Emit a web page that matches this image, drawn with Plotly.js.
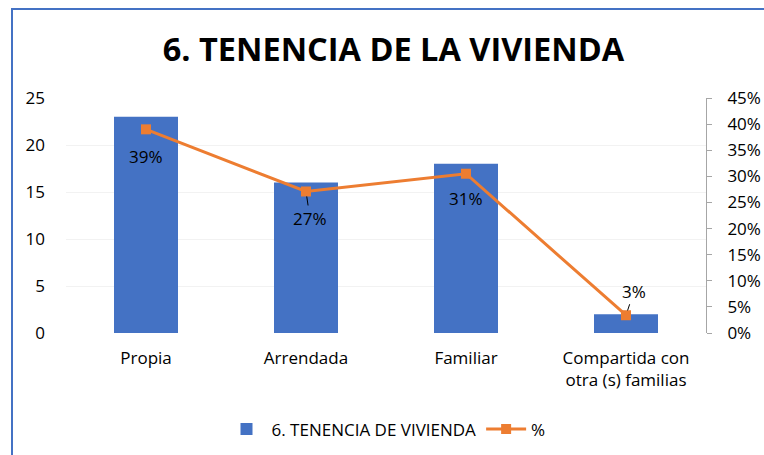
<!DOCTYPE html>
<html>
<head>
<meta charset="utf-8">
<script src="https://cdn.plot.ly/plotly-3.0.1.min.js"></script>
<style>
html,body{margin:0;padding:0;overflow:hidden;background:#fff;}
#chart{width:764px;height:455px;}
</style>
</head>
<body>
<div id="chart"></div>
<script>
var categories = ["Propia", "Arrendada", "Familiar", "Compartida con<br>otra (s) familias"];
var counts = [23, 16, 18, 2];
var percents = [0.39, 0.271, 0.305, 0.034];
var percentLabels = ["39%", "27%", "31%", "3%"];
var barName = "6. TENENCIA DE VIVIENDA";
var lineName = "%";

// label placement (styling, not data)
var labelStyle = [
  {ax: 0, ay: 27, arrow: false},
  {ax: 4, ay: 27, arrow: true},
  {ax: 0, ay: 25, arrow: false},
  {ax: 8, ay: -24, arrow: true}
];

var FONT = "Open Sans, sans-serif";
var blue = "#4472C4";
var orange = "#ED7D31";

var traces = [
  {
    type: "bar",
    name: barName,
    x: categories,
    y: counts,
    marker: {color: blue},
    width: 0.4,
    yaxis: "y",
    hoverinfo: "none"
  },
  {
    type: "scatter",
    mode: "lines+markers",
    name: lineName,
    x: categories,
    y: percents,
    yaxis: "y2",
    line: {color: orange, width: 3},
    marker: {color: orange, symbol: "square", size: 10},
    hoverinfo: "none"
  }
];

var annotations = percents.map(function (p, i) {
  var s = labelStyle[i];
  return {
    x: categories[i], y: p, xref: "x", yref: "y2",
    text: percentLabels[i],
    showarrow: true,
    arrowhead: 0, arrowwidth: 1,
    arrowcolor: s.arrow ? "#000" : "rgba(0,0,0,0)",
    standoff: 5,
    ax: s.ax, ay: s.ay,
    font: {family: FONT, size: 17, color: "#000"}
  };
});

var layout = {
  width: 764, height: 455,
  margin: {l: 66, r: 58, t: 98, b: 122, autoexpand: false},
  paper_bgcolor: "#fff", plot_bgcolor: "#fff",
  font: {family: FONT, size: 17, color: "#000"},
  title: {
    text: "<b>6. TENENCIA DE LA VIVIENDA</b>",
    font: {family: FONT, size: 32.5, color: "#000"},
    x: 0.515, xanchor: "center", y: 0.89, yanchor: "middle"
  },
  showlegend: true,
  legend: {
    orientation: "h", x: 0.5, xanchor: "center", y: -0.41, yanchor: "middle",
    font: {family: FONT, size: 17, color: "#000"},
    itemwidth: 40
  },
  bargap: 0.6,
  xaxis: {
    type: "category", automargin: false,
    showline: false, showgrid: false, ticks: "",
    tickfont: {family: FONT, size: 17},
    ticklabelstandoff: 13
  },
  yaxis: {
    range: [0, 25], dtick: 5, automargin: false,
    showgrid: true, gridcolor: "#f2f2f2", gridwidth: 1,
    zeroline: false, showline: false, ticks: "",
    tickfont: {family: FONT, size: 17},
    ticklabelstandoff: 20
  },
  yaxis2: {
    overlaying: "y", side: "right", automargin: false,
    range: [0, 0.45], dtick: 0.05, tickformat: ".0%",
    showgrid: false, zeroline: false,
    showline: true, linecolor: "#a6a6a6", linewidth: 1,
    ticks: "outside", ticklen: 5, tickcolor: "#a6a6a6",
    tickfont: {family: FONT, size: 17},
    ticklabelstandoff: 12
  },
  annotations: annotations,
  shapes: [
    {
      type: "rect", xref: "paper", yref: "paper",
      x0: (12 - 66) / 640, x1: 1.3, y0: -0.8, y1: (333 - 9) / 235,
      line: {color: blue, width: 2}, fillcolor: "rgba(0,0,0,0)", layer: "above"
    }
  ]
};

Plotly.newPlot("chart", traces, layout, {displayModeBar: false, staticPlot: true});
</script>
</body>
</html>
